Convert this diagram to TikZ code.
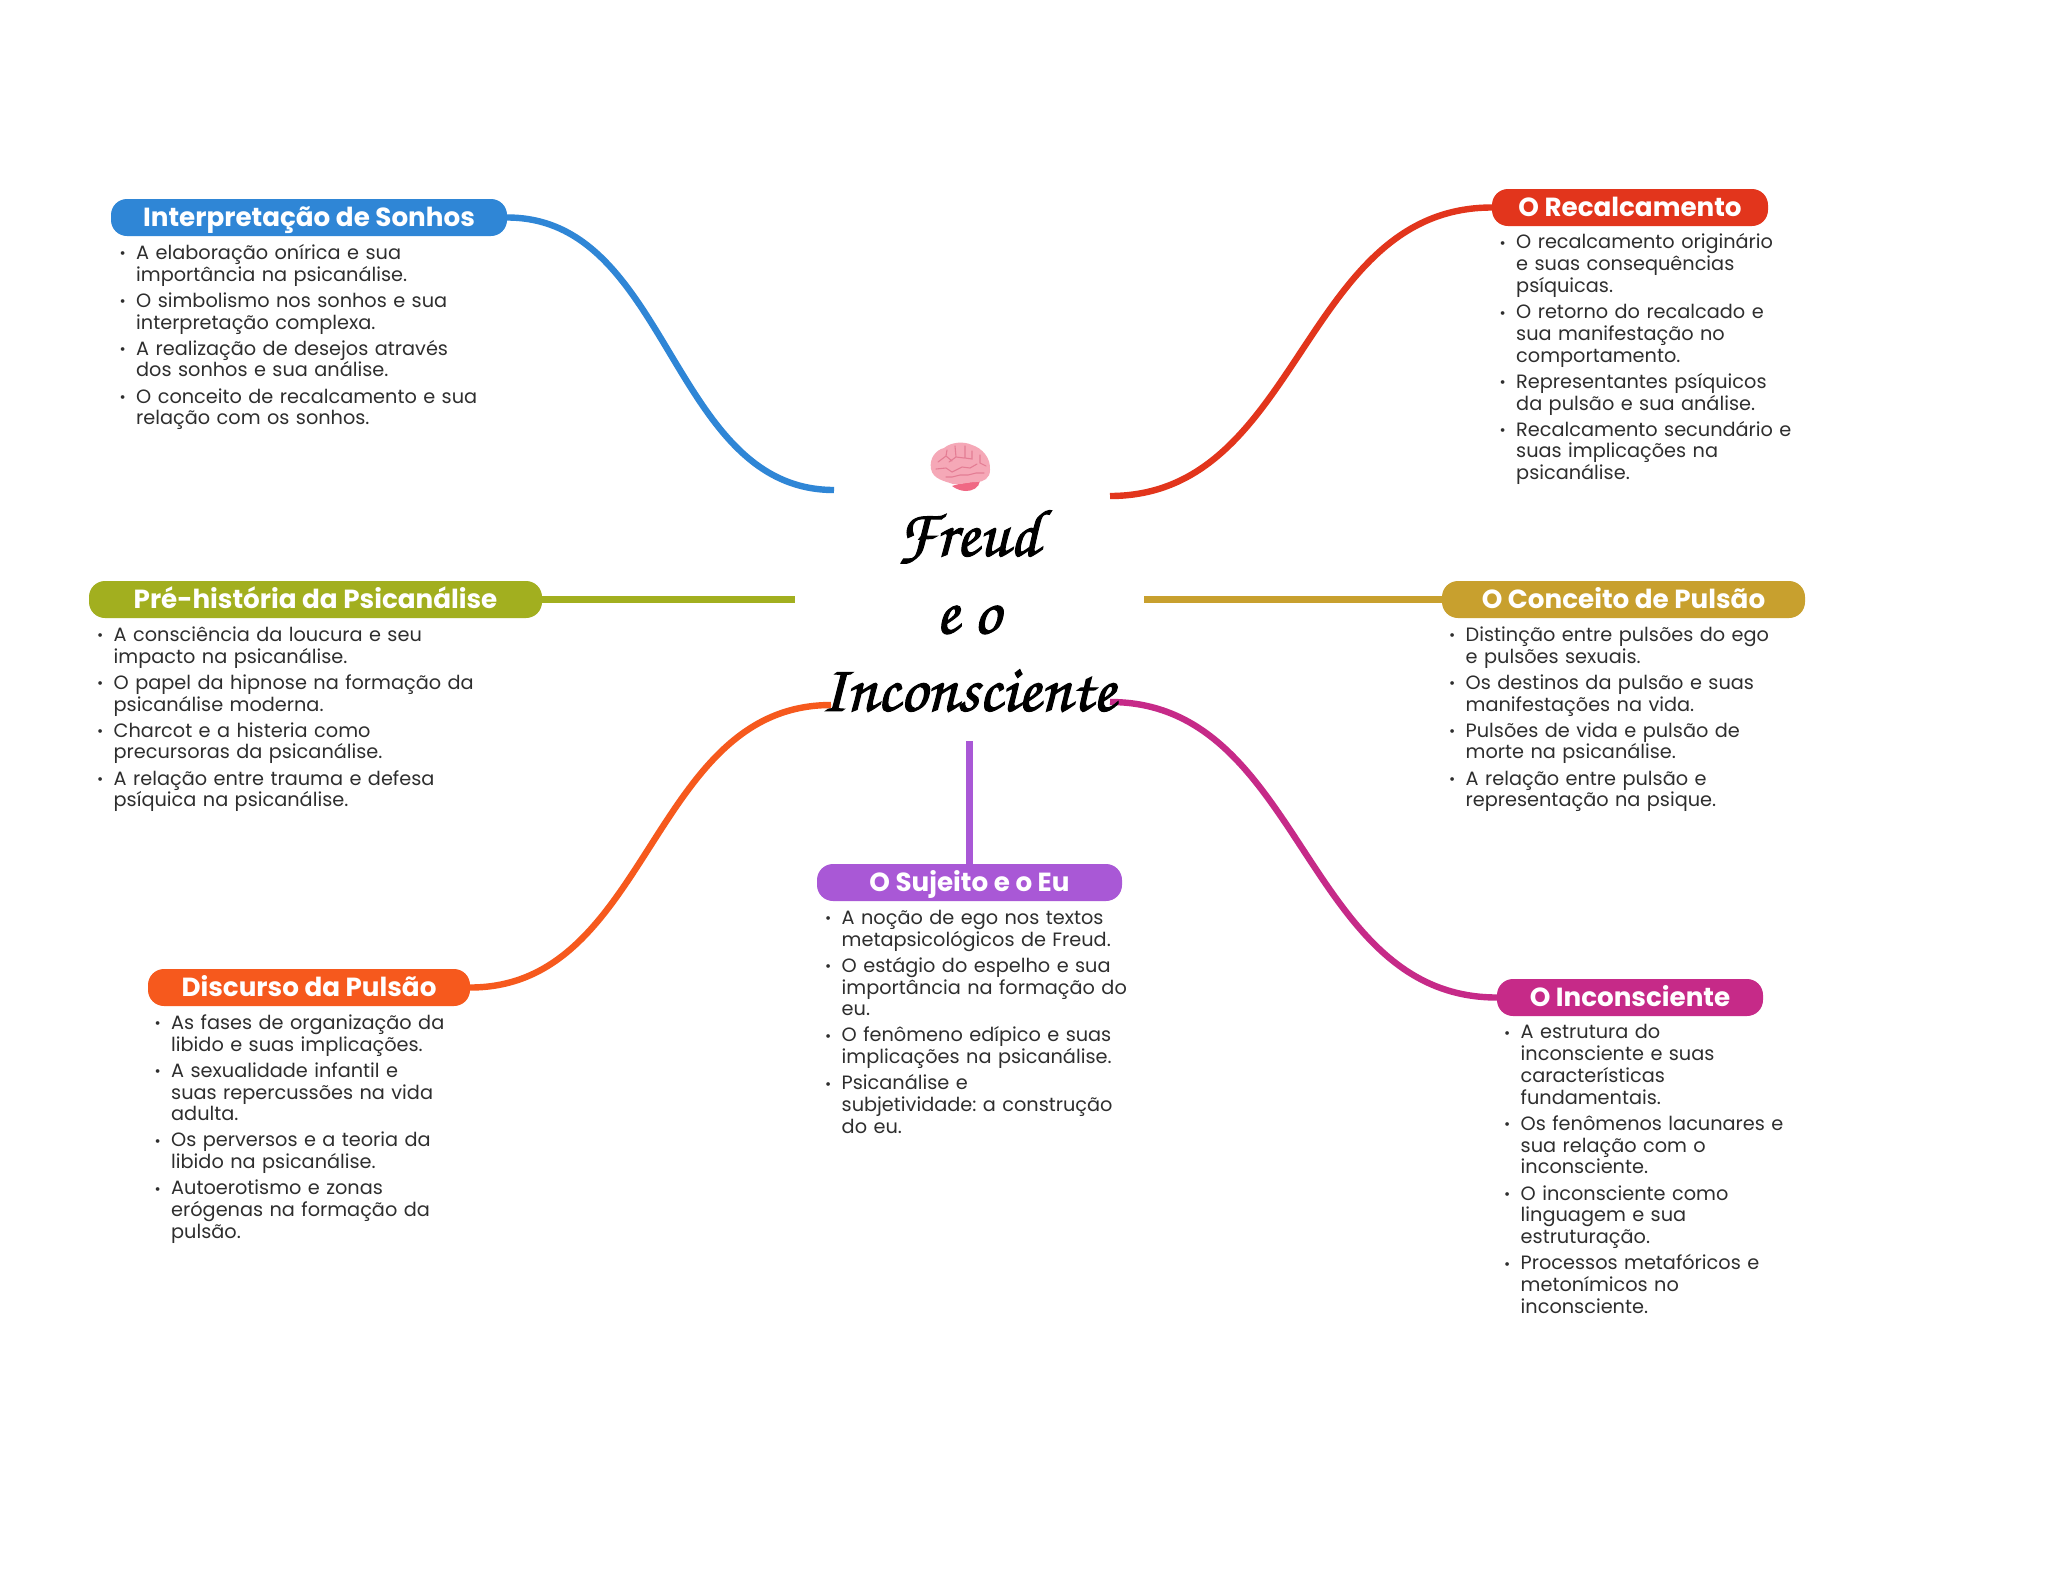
\documentclass[tikz,border=0pt]{standalone}
\usepackage{fontspec}
\setmainfont{Poppins}
\frenchspacing
\definecolor{cblue}{HTML}{2F86D6}
\definecolor{cred}{HTML}{E2351C}
\definecolor{colive}{HTML}{A2AF1F}
\definecolor{cgold}{HTML}{C8A02E}
\definecolor{corange}{HTML}{F6591D}
\definecolor{cmag}{HTML}{C62A88}
\definecolor{cpurple}{HTML}{A958D6}
\definecolor{cbody}{HTML}{2E2E2E}
\definecolor{brainfill}{HTML}{F5A8B7}
\definecolor{brainline}{HTML}{E47D94}
\definecolor{braindark}{HTML}{F06884}
\newcommand{\bi}[1]{\par\vspace{4.3pt}\hangindent=14pt\hangafter=1\noindent\rule{0pt}{15pt}\makebox[14pt][l]{\hspace{-2.5pt}\raisebox{0.5pt}{\fontsize{15}{15}\selectfont •}}#1\par}
\tikzset{
  pill/.style={fill=#1,draw=none,rounded corners=16pt,text=white,font=\fontsize{26.2}{30}\selectfont\bfseries,inner sep=0pt,minimum height=37pt,text height=20pt,text depth=3pt,anchor=center},
  blist/.style={anchor=north west,inner sep=0pt,text width=420pt,align=left,text=cbody,font=\fontsize{19.3}{21.8}\selectfont},
  link/.style={line width=6.4pt,draw=#1},
}
\begin{document}
\begin{tikzpicture}[x=1pt,y=-1pt]
\useasboundingbox (0,0) rectangle (2048,1569);
\fill[white] (0,0) rectangle (2048,1569);
% pills
\node[pill=cblue,minimum width=396pt] (p1) at (309,217.5) {Interpretação de Sonhos};
\node[pill=cred,minimum width=276pt] (p2) at (1630,207.5) {O Recalcamento};
\node[pill=colive,minimum width=453pt] (p3) at (315.5,599.5) {Pré-história da Psicanálise};
\node[pill=cgold,minimum width=363pt] (p4) at (1623.5,599.5) {O Conceito de Pulsão};
\node[pill=corange,minimum width=322pt] (p5) at (309,987.5) {Discurso da Pulsão};
\node[pill=cpurple,minimum width=305pt] (p6) at (969.5,882.5) {O Sujeito e o Eu};
\node[pill=cmag,minimum width=266pt] (p7) at (1630,997.5) {O Inconsciente};
% free ends
\coordinate (e1) at (834,490);
\coordinate (e2) at (1110,496);
\coordinate (e3) at (795,599.5);
\coordinate (e4) at (1144,599.5);
\coordinate (e5) at (831,705);
\coordinate (e6) at (969.5,741);
\coordinate (e7) at (1110,702);
% connectors
\draw[link=cblue] (p1.east) .. controls (670,217.5) and (670,490) .. (e1);
\draw[link=cred] (p2.west) .. controls (1301,207.5) and (1301,496) .. (e2);
\draw[link=colive] (p3.east) -- (e3);
\draw[link=cgold] (p4.west) -- (e4);
\draw[link=corange] (p5.east) .. controls (650,987.5) and (650,705) .. (e5);
\draw[link=cpurple] (p6.north) -- (e6);
\draw[link=cmag] (p7.west) .. controls (1303,997.5) and (1303,702) .. (e7);
% lists
\node[blist] (l1) at (122,233) {
\bi{A elaboração onírica e sua\newline importância na psicanálise.}
\bi{O simbolismo nos sonhos e sua\newline interpretação complexa.}
\bi{A realização de desejos através\newline dos sonhos e sua análise.}
\bi{O conceito de recalcamento e sua\newline relação com os sonhos.}};
\node[blist] (l2) at (1502,222.5) {
\bi{O recalcamento originário\newline e suas consequências\newline psíquicas.}
\bi{O retorno do recalcado e\newline sua manifestação no\newline comportamento.}
\bi{Representantes psíquicos\newline da pulsão e sua análise.}
\bi{Recalcamento secundário e\newline suas implicações na\newline psicanálise.}};
\node[blist] (l3) at (99.5,615) {
\bi{A consciência da loucura e seu\newline impacto na psicanálise.}
\bi{O papel da hipnose na formação da\newline psicanálise moderna.}
\bi{Charcot e a histeria como\newline precursoras da psicanálise.}
\bi{A relação entre trauma e defesa\newline psíquica na psicanálise.}};
\node[blist] (l4) at (1451.5,615) {
\bi{Distinção entre pulsões do ego\newline e pulsões sexuais.}
\bi{Os destinos da pulsão e suas\newline manifestações na vida.}
\bi{Pulsões de vida e pulsão de\newline morte na psicanálise.}
\bi{A relação entre pulsão e\newline representação na psique.}};
\node[blist] (l5) at (157,1003) {
\bi{As fases de organização da\newline libido e suas implicações.}
\bi{A sexualidade infantil e\newline suas repercussões na vida\newline adulta.}
\bi{Os perversos e a teoria da\newline libido na psicanálise.}
\bi{Autoerotismo e zonas\newline erógenas na formação da\newline pulsão.}};
\node[blist] (l6) at (827.5,898) {
\bi{A noção de ego nos textos\newline metapsicológicos de Freud.}
\bi{O estágio do espelho e sua\newline importância na formação do\newline eu.}
\bi{O fenômeno edípico e suas\newline implicações na psicanálise.}
\bi{Psicanálise e\newline subjetividade: a construção\newline do eu.}};
\node[blist] (l7) at (1506.5,1012.5) {
\bi{A estrutura do\newline inconsciente e suas\newline características\newline fundamentais.}
\bi{Os fenômenos lacunares e\newline sua relação com o\newline inconsciente.}
\bi{O inconsciente como\newline linguagem e sua\newline estruturação.}
\bi{Processos metafóricos e\newline metonímicos no\newline inconsciente.}};
% brain
\begin{scope}[shift={(960,466)}]
\fill[braindark] (-8,20) .. controls (0,17) and (12,16) .. (20,15) .. controls (19,22) and (12,25) .. (6,25) .. controls (1,25) and (-4,23) .. (-8,20) -- cycle;
\fill[brainfill] (-29,3) .. controls (-31,-8) and (-24,-16) .. (-16,-18) .. controls (-9,-24) and (4,-25) .. (12,-21) .. controls (22,-18) and (31,-8) .. (30,4) .. controls (30,12) and (24,16) .. (16,16) .. controls (8,16) and (0,19) .. (-7,18) .. controls (-16,15) and (-27,13) .. (-29,3) -- cycle;
\draw[line width=1.1pt,draw=brainline,line cap=round]
 (-22,-4) -- (-14,-10) -- (-8,-5) (-14,-10) -- (-13,-16)
 (-5,-20) -- (-4,-9) -- (-11,-4) (-4,-9) -- (4,-8)
 (5,-20) -- (5,-8) -- (12,-7) -- (12,-15)
 (20,-11) -- (20,-3) -- (26,0)
 (-24,3) -- (-14,2) -- (-8,6) -- (2,1) -- (10,2) -- (17,-2)
 (-14,11) -- (-8,11) -- (0,9) -- (8,9) -- (16,7) -- (24,7);
\end{scope}
% title
\node[align=center,inner sep=0pt,text=black,anchor=center,font=\fontsize{67}{77.5}\usefont{OT1}{pzc}{mb}{it}] (title) at (968,610) {\special{pdf:code 2 Tr 1.1 w 0 G}Freud\\e o\\Inconsciente\special{pdf:code 0 Tr}};
\end{tikzpicture}
\end{document}
